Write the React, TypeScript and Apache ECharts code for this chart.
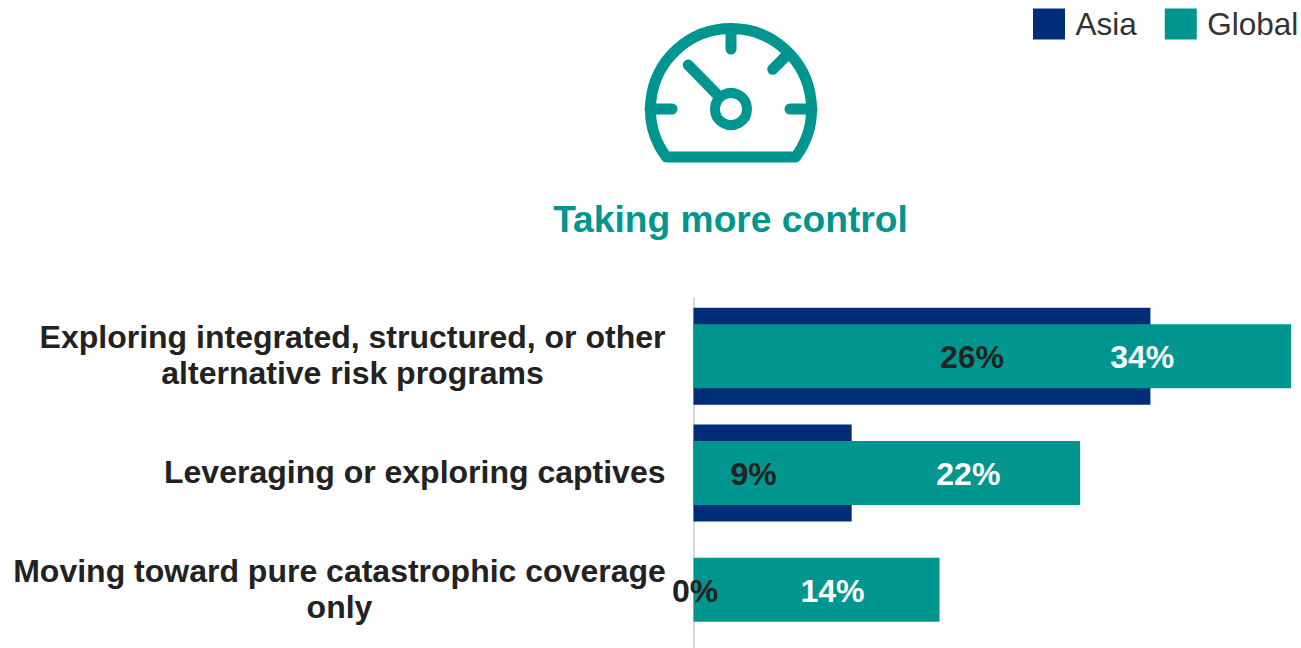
import React, { useEffect, useRef } from "react";
import * as echarts from "echarts";

const categories = [
  "Exploring integrated, structured, or other\nalternative risk programs",
  "Leveraging or exploring captives",
  "Moving toward pure catastrophic coverage\nonly",
];
const asiaValues = [26, 9, 0];
const globalValues = [34, 22, 14];
const legendNames = ["Asia", "Global"];
const titleText = "Taking more control";

const NAVY = "#002d77";
const TEAL = "#00968f";
const INK = "#222222";
const FONT = '"Liberation Sans", Arial, sans-serif';

// Horizontal nudges that place each value label along its bar.
const asiaLabelShift = [50, -19, 1.5];
const globalLabelShift = [150, 81.5, 16];

// Each wrapped category is centred line by line inside a box of its own width.
const labelBoxWidths = [626, 0, 652];

const gaugeOutline =
  "M666.4 157 A80.5 80.5 0 1 1 795.6 157 Z " +
  "M731 30 L731 49 M650 109 L672 109 M790 109 L812 109 " +
  "M772.7 69.3 L787 55 M688.3 65 L716 93.3";
echarts.graphic.registerShape("gauge", echarts.graphic.extendPath(gaugeOutline, {}) as any);

function categoryLabel(text: string, index: number) {
  const box = `box${index}`;
  return labelBoxWidths[index]
    ? text.split("\n").map((line) => `{${box}|${line}}`).join("\n")
    : text;
}

const labelText = {
  fontFamily: FONT,
  fontSize: 32,
  fontWeight: "bold" as const,
  color: INK,
  lineHeight: 36,
};

function withShift(values: number[], shifts: number[], color: string) {
  return values.map((value, i) => ({
    value,
    label: { show: true, position: "inside" as const, offset: [shifts[i], 1], color },
  }));
}

export default function App() {
  const ref = useRef<HTMLDivElement>(null);

  useEffect(() => {
    const chart = echarts.init(ref.current!, undefined, { renderer: "svg" });
    const rich: Record<string, object> = {};
    labelBoxWidths.forEach((width, i) => {
      if (width) rich[`box${i}`] = { ...labelText, width, align: "center" };
    });
    const valueLabel = {
      show: true,
      fontFamily: FONT,
      fontSize: 32,
      fontWeight: "bold" as const,
      formatter: "{c}%",
    };
    chart.setOption({
      animation: false,
      backgroundColor: "#ffffff",
      title: {
        text: titleText,
        left: 725.5,
        top: 195.5,
        textAlign: "center",
        textStyle: { fontFamily: FONT, fontSize: 37.2, fontWeight: "bold", color: TEAL },
      },
      legend: {
        data: legendNames,
        left: 1033,
        top: 8,
        padding: 0,
        itemWidth: 32,
        itemHeight: 31,
        itemGap: 28,
        icon: "rect",
        textStyle: { fontFamily: FONT, fontSize: 31.5, color: "#333333", padding: [0, 0, 0, 5.5] },
      },
      grid: { left: 693.5, top: 298, width: 597.5, height: 350, containLabel: false },
      xAxis: { type: "value", min: 0, max: 34, show: false },
      yAxis: [
        {
          type: "category",
          data: categories,
          inverse: true,
          axisLine: { show: true, lineStyle: { color: "#d9d9d9", width: 2 } },
          axisTick: { show: false },
          axisLabel: {
            ...labelText,
            margin: 28,
            align: "right",
            padding: [0, 0, 2, 0],
            rich,
            formatter: (value: string, index: number) => categoryLabel(value, index),
          },
        },
        { type: "category", data: categories, inverse: true, show: false },
        { type: "category", data: categories, inverse: true, show: false },
      ],
      series: [
        {
          name: "Asia",
          type: "bar",
          yAxisIndex: 0,
          data: asiaValues,
          barWidth: 97,
          itemStyle: { color: NAVY },
          z: 2,
        },
        {
          name: "Global",
          type: "bar",
          yAxisIndex: 1,
          data: withShift(globalValues, globalLabelShift, "#ffffff"),
          barWidth: 64,
          itemStyle: { color: TEAL },
          label: valueLabel,
          z: 3,
        },
        {
          // Carries the Asia figures so they sit above the wider teal bars.
          name: "Asia values",
          type: "bar",
          yAxisIndex: 2,
          data: withShift(asiaValues, asiaLabelShift, INK),
          barWidth: 64,
          itemStyle: { color: "transparent" },
          label: valueLabel,
          silent: true,
          z: 4,
        },
      ],
      graphic: [
        {
          type: "gauge",
          x: 0,
          y: 0,
          silent: true,
          style: { fill: "none", stroke: TEAL, lineWidth: 11, lineCap: "round", lineJoin: "round" },
        },
        {
          type: "circle",
          silent: true,
          shape: { cx: 731, cy: 109, r: 16 },
          style: { fill: "#ffffff", stroke: TEAL, lineWidth: 10 },
        },
      ],
    });
    return () => chart.dispose();
  }, []);

  return (
    <div
      ref={ref}
      style={{ position: "absolute", left: 0, top: 0, width: 1301, height: 648 }}
    />
  );
}
